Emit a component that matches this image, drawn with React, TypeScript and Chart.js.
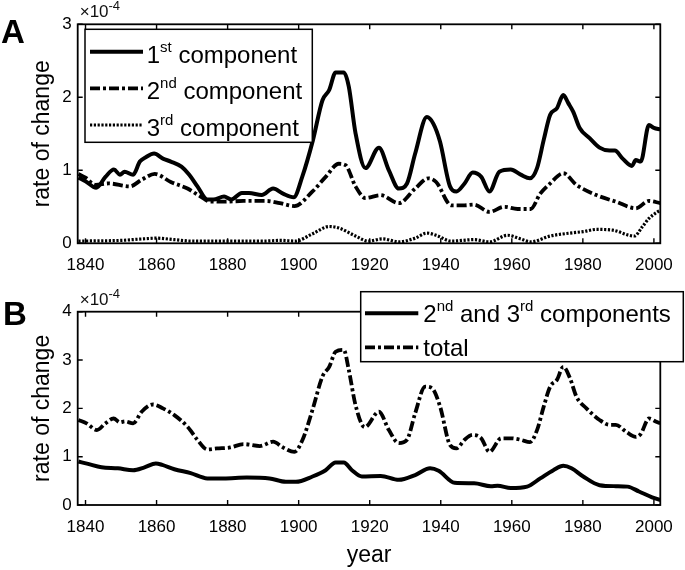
import React, { useEffect, useRef } from 'react';
import { Chart, registerables } from 'chart.js';

Chart.register(...registerables);

const FONT = '"Liberation Sans", Arial, Helvetica, sans-serif';

// ---- data (values in units of 1e-4) ----
const comp1Years = [1838, 1840, 1843, 1845.6, 1848, 1849.7, 1851, 1853.4, 1855.3, 1857, 1859.3, 1861.8, 1864, 1867, 1869.2, 1871.5, 1874.3, 1876, 1879, 1881, 1884, 1886, 1889.6, 1892.8, 1895.6, 1898.6, 1901, 1904, 1906.7, 1908.6, 1910.4, 1912.7, 1914.1, 1916, 1918.8, 1922.6, 1925.4, 1928.2, 1930.5, 1932.8, 1936.1, 1937.9, 1939.8, 1942.6, 1944.4, 1946.7, 1949, 1951.4, 1953.7, 1956.5, 1959.7, 1962.5, 1965.1, 1967.1, 1969, 1970.8, 1972.7, 1974.5, 1975.9, 1977.3, 1979.1, 1981.9, 1984.7, 1987.5, 1989, 1991.2, 1993.8, 1994.9, 1996.3, 1998.6, 2000, 2001.8];
const comp1Values = [0.90, 0.85, 0.76, 0.91, 1.01, 0.94, 0.98, 0.94, 1.12, 1.18, 1.23, 1.16, 1.12, 1.05, 0.94, 0.78, 0.60, 0.60, 0.64, 0.60, 0.69, 0.69, 0.66, 0.75, 0.68, 0.63, 0.91, 1.41, 1.96, 2.10, 2.34, 2.34, 2.15, 1.51, 1.03, 1.31, 1.00, 0.75, 0.82, 1.23, 1.73, 1.64, 1.39, 0.78, 0.71, 0.82, 0.97, 0.91, 0.71, 0.98, 1.01, 0.94, 0.89, 1.03, 1.42, 1.76, 1.85, 2.03, 1.92, 1.80, 1.58, 1.44, 1.31, 1.27, 1.27, 1.16, 1.06, 1.14, 1.12, 1.62, 1.58, 1.56];

const comp2Years = [1838, 1840, 1842.8, 1846.5, 1852.5, 1855.8, 1859.5, 1864, 1868.7, 1872.4, 1875.2, 1879, 1884.5, 1891, 1894.7, 1898.8, 1903.9, 1907.6, 1911.3, 1913.2, 1916, 1918.8, 1923, 1928.2, 1932.8, 1936.5, 1938.7, 1943, 1946.7, 1949.4, 1953.7, 1957.9, 1961.6, 1965.3, 1968, 1970.8, 1974.5, 1978.2, 1983.8, 1989.3, 1994.9, 1998.6, 2001.8];
const comp2Values = [0.95, 0.90, 0.80, 0.82, 0.78, 0.87, 0.95, 0.84, 0.75, 0.64, 0.57, 0.57, 0.58, 0.58, 0.55, 0.51, 0.71, 0.91, 1.09, 1.07, 0.78, 0.62, 0.66, 0.55, 0.75, 0.89, 0.84, 0.52, 0.52, 0.53, 0.43, 0.50, 0.47, 0.47, 0.68, 0.82, 0.96, 0.80, 0.66, 0.57, 0.48, 0.58, 0.55];

const comp3Years = [1838, 1850, 1856, 1860, 1865, 1870, 1880, 1890, 1895, 1899, 1903.9, 1908.6, 1911.3, 1916, 1919.6, 1923.6, 1928.2, 1932.8, 1936.1, 1938.7, 1943, 1949.4, 1953.7, 1958.8, 1962.5, 1965.3, 1970.8, 1976.4, 1980.1, 1983.8, 1988.4, 1993, 1994.5, 1996.8, 1998.6, 2001, 2001.8];
const comp3Values = [0.03, 0.04, 0.06, 0.07, 0.05, 0.03, 0.03, 0.03, 0.04, 0.03, 0.13, 0.23, 0.21, 0.10, 0.03, 0.06, 0.02, 0.07, 0.14, 0.11, 0.03, 0.05, 0.02, 0.11, 0.06, 0.02, 0.10, 0.14, 0.16, 0.19, 0.18, 0.11, 0.10, 0.23, 0.34, 0.43, 0.45];

const totalYears = [1838, 1840.3, 1843.2, 1845.6, 1847.9, 1849.7, 1851.1, 1853.4, 1855.8, 1859, 1861.8, 1865, 1868.7, 1871.5, 1874.3, 1877, 1880.7, 1884.5, 1889.1, 1892.8, 1895.6, 1898.8, 1901.1, 1903.9, 1906.7, 1908.6, 1910.4, 1912.7, 1914.1, 1916, 1918.6, 1922.6, 1925.4, 1928.2, 1930.5, 1932.8, 1935.6, 1937.5, 1939.8, 1942.6, 1944.4, 1946.7, 1949, 1951.4, 1953.7, 1957, 1959.7, 1962.5, 1965.1, 1967.1, 1969, 1970.8, 1972.7, 1974.5, 1976.4, 1978.2, 1981, 1984.7, 1987.5, 1989.3, 1992.1, 1994.9, 1996.3, 1998.6, 2000.5, 2001.8];
const totalValues = [1.76, 1.69, 1.55, 1.69, 1.79, 1.71, 1.73, 1.69, 1.93, 2.08, 2.00, 1.86, 1.62, 1.35, 1.15, 1.17, 1.19, 1.26, 1.22, 1.31, 1.19, 1.10, 1.35, 1.97, 2.66, 2.86, 3.17, 3.21, 2.80, 2.07, 1.61, 1.93, 1.55, 1.28, 1.35, 1.90, 2.45, 2.42, 2.04, 1.24, 1.17, 1.35, 1.45, 1.38, 1.10, 1.38, 1.38, 1.35, 1.30, 1.55, 2.04, 2.45, 2.59, 2.86, 2.62, 2.24, 2.00, 1.76, 1.66, 1.66, 1.52, 1.41, 1.47, 1.79, 1.73, 1.69];

const comp23Years = [1838, 1840.7, 1844.5, 1849.1, 1853.4, 1856.6, 1859.8, 1861.6, 1865, 1869.6, 1874.3, 1878.9, 1885.4, 1891.8, 1896.4, 1899.2, 1903.9, 1907.6, 1910.4, 1912.7, 1915, 1917.8, 1923.1, 1928.2, 1932.8, 1937, 1939.4, 1943.9, 1949.4, 1954.1, 1956, 1959.7, 1964.3, 1968, 1971.7, 1974.5, 1976.8, 1980.1, 1984.7, 1989.3, 1992.6, 1995.8, 1999.5, 2001.8];
const comp23Values = [0.90, 0.85, 0.78, 0.76, 0.72, 0.78, 0.86, 0.83, 0.74, 0.66, 0.55, 0.55, 0.57, 0.55, 0.48, 0.48, 0.59, 0.72, 0.88, 0.88, 0.72, 0.59, 0.60, 0.52, 0.62, 0.76, 0.71, 0.46, 0.45, 0.39, 0.40, 0.35, 0.38, 0.55, 0.72, 0.81, 0.76, 0.59, 0.41, 0.39, 0.38, 0.28, 0.16, 0.10];

const xMin = 1837.8;
const xMax = 2001.8;
const yMaxA = 3;
const yMaxB = 4;

const SOLID: number[] = [];
const DASHDOT = [10, 3, 3, 3];
const DOTTED = [2.2, 1.6];

type Part = { t: string; sup?: boolean };

function toPoints(xs: number[], ys: number[]) {
  return xs.map((x, i) => ({ x, y: ys[i] }));
}

function drawRich(ctx: CanvasRenderingContext2D, x: number, y: number, parts: Part[], size: number, supSize: number, rise: number) {
  let cx = x;
  ctx.textAlign = 'left';
  ctx.textBaseline = 'alphabetic';
  for (const p of parts) {
    ctx.font = `${p.sup ? supSize : size}px ${FONT}`;
    ctx.fillText(p.t, cx, p.sup ? y - rise : y);
    cx += ctx.measureText(p.t).width;
  }
}

const decorPlugin = {
  id: 'decor',
  afterDatasetsDraw(chart: any, _args: any, opts: any) {
    const { ctx, chartArea: a, scales } = chart;
    ctx.save();
    ctx.strokeStyle = '#000';
    ctx.lineWidth = 1.8;
    ctx.setLineDash([]);
    ctx.strokeRect(a.left, a.top, a.right - a.left, a.bottom - a.top);
    const tl = 5;
    ctx.lineWidth = 1.4;
    ctx.beginPath();
    scales.x.ticks.forEach((t: any) => {
      const px = scales.x.getPixelForValue(t.value);
      ctx.moveTo(px, a.bottom); ctx.lineTo(px, a.bottom - tl);
      ctx.moveTo(px, a.top); ctx.lineTo(px, a.top + tl);
    });
    scales.y.ticks.forEach((t: any) => {
      const py = scales.y.getPixelForValue(t.value);
      ctx.moveTo(a.left, py); ctx.lineTo(a.left + tl, py);
      ctx.moveTo(a.right, py); ctx.lineTo(a.right - tl, py);
    });
    ctx.stroke();
    // exponent label
    ctx.fillStyle = '#111';
    drawRich(ctx, a.left + 2, a.top - 7, [{ t: '\u00d7' }, { t: '10' }, { t: '-4', sup: true }], 17, 13, 7);
    // panel letter
    ctx.font = `bold 33px ${FONT}`;
    ctx.textAlign = 'left';
    ctx.textBaseline = 'alphabetic';
    ctx.fillStyle = '#000';
    ctx.fillText(opts.letter, opts.letterX, opts.letterY);
    ctx.restore();
  },
  afterDraw(chart: any, _args: any, opts: any) {
    const { ctx } = chart;
    const L = opts.legend;
    ctx.save();
    ctx.fillStyle = '#fff';
    ctx.fillRect(L.x, L.y, L.w, L.h);
    ctx.strokeStyle = '#000';
    ctx.lineWidth = 1.5;
    ctx.setLineDash([]);
    ctx.strokeRect(L.x, L.y, L.w, L.h);
    L.rows.forEach((r: any) => {
      ctx.lineWidth = r.width;
      ctx.setLineDash(r.dash);
      ctx.lineCap = 'butt';
      ctx.beginPath();
      ctx.moveTo(L.sx1, r.y);
      ctx.lineTo(L.sx2, r.y);
      ctx.stroke();
      ctx.setLineDash([]);
      ctx.fillStyle = '#000';
      drawRich(ctx, L.tx, r.y + L.baseOff, r.parts, 24, 15, 11);
    });
    ctx.restore();
  },
};

function makeOptions(yMax: number, cfg: any) {
  return {
    responsive: false,
    animation: false as const,
    layout: { padding: cfg.padding },
    elements: { point: { radius: 0 }, line: { cubicInterpolationMode: 'monotone' } },
    plugins: {
      legend: { display: false },
      tooltip: { enabled: false },
      decor: cfg.decor,
    },
    scales: {
      x: {
        type: 'linear',
        min: xMin,
        max: xMax,
        grid: { display: false, drawTicks: false },
        border: { display: false },
        ticks: {
          stepSize: 20,
          includeBounds: false,
          autoSkip: false,
          maxRotation: 0,
          padding: 12,
          color: '#000',
          font: { family: FONT, size: 17 },
          callback: (v: number) => String(v),
        },
        title: cfg.xTitle
          ? { display: true, text: 'year', color: '#000', font: { family: FONT, size: 23 }, padding: { top: 0, bottom: 1 } }
          : { display: false },
        afterFit: (s: any) => { s.height = cfg.xHeight; },
      },
      y: {
        min: 0,
        max: yMax,
        grid: { display: false, drawTicks: false },
        border: { display: false },
        ticks: {
          stepSize: 1,
          padding: 6,
          color: '#000',
          font: { family: FONT, size: 17 },
          callback: (v: number) => String(v),
        },
        title: { display: true, text: 'rate of change', color: '#000', font: { family: FONT, size: 23 }, padding: { top: 29, bottom: 0 } },
        afterFit: (s: any) => { s.width = 77.7; },
      },
    },
  };
}

function PanelChart({ top, height, datasets, options }: any) {
  const ref = useRef<HTMLCanvasElement | null>(null);
  useEffect(() => {
    if (!ref.current) return;
    const chart = new Chart(ref.current, {
      type: 'line',
      data: { datasets },
      options,
      plugins: [decorPlugin],
    } as any);
    return () => chart.destroy();
  }, []);
  return (
    <canvas
      ref={ref}
      width={685}
      height={height}
      style={{ position: 'absolute', left: 0, top, width: 685, height }}
    />
  );
}

function ds(xs: number[], ys: number[], dash: number[], width: number) {
  return {
    data: toPoints(xs, ys),
    borderColor: '#000',
    borderWidth: width,
    borderDash: dash,
    borderCapStyle: 'butt',
    fill: false,
    pointRadius: 0,
  };
}

export default function App() {
  const datasetsA = [
    ds(comp1Years, comp1Values, SOLID, 4),
    ds(comp2Years, comp2Values, DASHDOT, 3.8),
    ds(comp3Years, comp3Values, DOTTED, 3.2),
  ];
  const datasetsB = [
    ds(comp23Years, comp23Values, SOLID, 4),
    ds(totalYears, totalValues, DASHDOT, 3.8),
  ];
  const optionsA = makeOptions(yMaxA, {
    padding: { top: 24.3, right: 17, left: 0, bottom: 0 },
    xHeight: 31.7,
    xTitle: false,
    decor: {
      letter: 'A',
      letterX: 1,
      letterY: 43,
      legend: {
        x: 85, y: 29.3, w: 227.3, h: 113,
        sx1: 90, sx2: 143, tx: 146.7, baseOff: 11,
        rows: [
          { y: 51.7, dash: SOLID, width: 4, parts: [{ t: '1' }, { t: 'st', sup: true }, { t: ' component' }] },
          { y: 88.3, dash: DASHDOT, width: 3.8, parts: [{ t: '2' }, { t: 'nd', sup: true }, { t: ' component' }] },
          { y: 125, dash: DOTTED, width: 3.2, parts: [{ t: '3' }, { t: 'rd', sup: true }, { t: ' component' }] },
        ],
      },
    },
  });
  const optionsB = makeOptions(yMaxB, {
    padding: { top: 36.7, right: 17, left: 0, bottom: 0 },
    xHeight: 65,
    xTitle: true,
    decor: {
      letter: 'B',
      letterX: 3,
      letterY: 50,
      legend: {
        x: 360.7, y: 16.7, w: 322.6, h: 70,
        sx1: 365, sx2: 418.3, tx: 423.3, baseOff: 8.5,
        rows: [
          { y: 38.3, dash: SOLID, width: 4, parts: [{ t: '2' }, { t: 'nd', sup: true }, { t: ' and 3' }, { t: 'rd', sup: true }, { t: ' components' }] },
          { y: 72.3, dash: DASHDOT, width: 3.8, parts: [{ t: 'total' }] },
        ],
      },
    },
  });
  return (
    <div style={{ position: 'absolute', left: 0, top: 0, width: 685, height: 570, background: '#fff' }}>
      <PanelChart top={0} height={275} datasets={datasetsA} options={optionsA} />
      <PanelChart top={275} height={295} datasets={datasetsB} options={optionsB} />
    </div>
  );
}
